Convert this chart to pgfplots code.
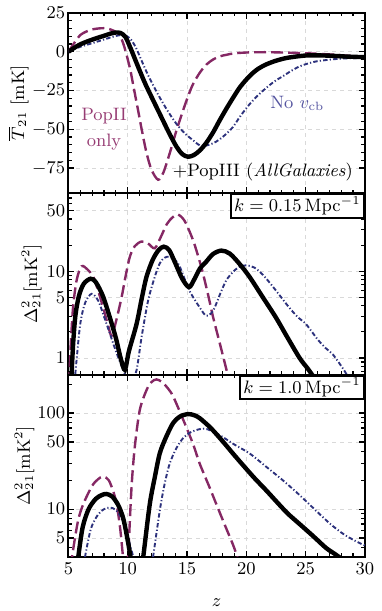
\documentclass[border=0pt]{standalone}
\usepackage{pgfplots}
\pgfplotsset{compat=1.18}
\definecolor{popii}{RGB}{133,40,100}
\definecolor{nov}{RGB}{45,50,125}
\definecolor{popiitext}{RGB}{150,60,115}
\definecolor{novtext}{RGB}{85,85,160}

\pgfplotsset{
  panel/.style={
    scale only axis, width=148.25pt, anchor=south west,
    xmin=5, xmax=30, xtick={5,10,...,30}, minor x tick num=4,
    axis line style={line width=1pt},
    tick style={black, line width=0.6pt},
    major tick length=3pt, minor tick length=1.7pt,
    tick align=inside,
    grid=major, major grid style={dash pattern=on 2pt off 2pt, gray!30, line width=0.4pt},
    yticklabel style={inner xsep=1.5pt},
  },
  allgal/.style={black, line width=2.2pt, smooth},
  popline/.style={popii, line width=1.2pt, dash pattern=on 6pt off 2.5pt, smooth},
  novline/.style={nov, line width=0.95pt, dash pattern=on 2.2pt off 1.1pt on 0.6pt off 1.1pt, smooth},
}
\tikzset{kbox/.style={draw, line width=1pt, fill=white, anchor=north east, inner xsep=1.6pt, inner ysep=1.2pt}}

\begin{document}
\fontsize{9}{11}\selectfont
\begin{tikzpicture}
\path[use as bounding box] (-34.25pt,-27.15pt) rectangle (156.75pt,278.5pt);

% --- global 21-cm signal ---
\begin{axis}[panel, at={(0pt,182pt)}, height=90pt,
    ymin=-91, ymax=25, ytick={-75,-50,-25,0,25}, minor y tick num=4,
    xticklabels={},
    ylabel={$\overline{T}_{21}$ [mK]},
    ylabel style={at={(axis description cs:-0.15,0.5)}, anchor=base},
]
\addplot[popline] coordinates {
(5.0,0) (5.5,5.8) (6.0,10.8) (6.5,13) (7.0,14.4) (7.5,15) (8.0,15.2) (8.5,14.5)
(9.0,12.8) (9.34,10.5) (9.7,3.5) (10.18,-10.4) (10.5,-23) (10.88,-38) (11.2,-51)
(11.58,-65) (12.0,-76) (12.56,-82.5) (13.0,-78) (13.54,-65.5) (14.1,-51)
(14.66,-38) (15.1,-28.5) (15.5,-21) (16.07,-13.6) (16.63,-8.3) (17.2,-5)
(17.75,-3) (18.3,-2) (19,-1) (20.3,-0.4) (22,-0.3) (24.5,-0.8) (26,-1.3)
(27.4,-1.9) (29,-2.8) (30,-3.5)
};
\addplot[novline] coordinates {
(5.0,0) (5.5,1.8) (6.0,3.2) (6.5,4.4) (7.0,5.5) (7.5,6.7) (8.0,7.9) (8.5,9.1)
(9.0,10.2) (9.5,10.8) (9.9,10.2) (10.3,7.6) (10.7,2.5) (11.1,-4.5) (11.5,-11.5)
(12.0,-19.5) (12.7,-29.5) (13.4,-38.5) (14.1,-46.4) (14.8,-52.5) (15.5,-57)
(16.07,-60.3) (16.6,-60.5) (17.2,-59) (17.75,-56.5) (18.3,-53) (18.87,-48.6)
(19.5,-41.5) (20.28,-33.8) (21.0,-28) (21.7,-23.2) (22.4,-19) (23.1,-15.7)
(23.8,-12.3) (24.5,-9.4) (25.2,-7.6) (25.9,-6.2) (26.9,-5.2) (27.85,-4.5)
(29,-4.1) (30,-4.0)
};
\addplot[allgal] coordinates {
(5.0,0) (5.5,2.6) (6.0,4.8) (6.5,6.4) (7.0,7.8) (7.5,9.1) (8.0,10.3) (8.5,11.6)
(9.0,12.4) (9.4,12.1) (9.8,9.6) (10.2,3) (10.6,-4.5) (11.0,-12) (11.5,-21)
(12.0,-29) (12.7,-40) (13.5,-52.5) (14.1,-61) (14.6,-66) (15.1,-67.7)
(15.6,-66.5) (16.1,-63.5) (16.6,-59) (17.2,-52) (17.75,-44.3) (18.3,-37)
(18.9,-29.5) (19.5,-22.5) (20.3,-15.5) (21.0,-11) (21.7,-8.1) (22.5,-5.8)
(23.4,-4.0) (24.5,-2.8) (25.3,-2.3) (26.5,-2.4) (27.5,-2.7) (28.5,-3.1) (30,-3.5)
};
\node[popiitext, anchor=base] at (axis cs:8.0,-44) {PopII};
\node[popiitext, anchor=base] at (axis cs:8.0,-61) {only};
\node[novtext] at (axis cs:24.3,-33) {No $v_{\rm cb}$};
\node[black] at (axis cs:21.4,-77.4) {$+$PopIII (\textit{AllGalaxies})};
\end{axis}

% --- power spectrum, k = 0.15 ---
\begin{axis}[panel, at={(0pt,91pt)}, height=91pt,
    ymode=log, ymin=0.64, ymax=80,
    ytick={1,5,10,50}, yticklabels={1,5,10,50},
    minor ytick={0.7,0.8,0.9,2,3,4,6,7,8,9,20,30,40,60,70,80},
    xticklabels={},
    ylabel={$\Delta^2_{21}[\mathrm{mK}^2]$},
    ylabel style={at={(axis description cs:-0.106,0.5)}, anchor=base},
]
\addplot[popline] coordinates {
(5.05,0.5) (5.2,1.5) (5.4,4) (5.7,8) (6.1,11.4) (6.6,10.5) (7.1,8.6) (7.5,6)
(7.93,3.8) (8.3,2.5) (8.64,1.8) (9.0,2.6) (9.48,5) (9.8,8.5) (10.18,14.7)
(10.6,19.5) (11.16,22) (11.7,21) (12.28,18.4) (12.8,25) (13.3,35) (13.8,42)
(14.24,45) (14.8,38) (15.5,23) (16.0,14) (16.35,9.4) (16.8,5.2) (17.19,3.0)
(17.7,1.6) (18.3,0.76) (18.6,0.5)
};
\addplot[novline] coordinates {
(5.5,0.5) (5.7,1.0) (6.0,2.5) (6.4,4.3) (6.95,5.5) (7.5,4.6) (8.0,3.0) (8.5,1.9)
(9.0,1.2) (9.5,0.8) (9.9,0.6) (10.3,0.55) (10.74,0.72) (11.16,1.71) (11.72,4.6)
(12.28,8.6) (12.7,12.3) (13.1,14.3) (13.54,14.7) (14.0,13.5) (14.4,11.2)
(15.2,6.0) (16.07,3.83) (16.63,3.07) (17.2,3.5) (17.8,5.5) (18.3,7.8) (18.87,9.8)
(19.4,11.2) (20.0,11.7) (20.7,11.0) (21.5,8.8) (22.5,6.0) (23.5,4.0) (24.3,3.0)
(25.05,2.45) (26,1.65) (26.7,1.3) (27.3,1.1) (27.9,0.85) (28.4,0.67) (28.7,0.55)
};
\addplot[allgal] coordinates {
(5.22,0.5) (5.4,1.5) (5.6,3.2) (5.9,5.3) (6.3,7.2) (6.87,8.2) (7.3,7.5) (7.9,5.2)
(8.5,2.9) (9.0,1.7) (9.4,1.0) (9.76,0.73) (10.1,1.2) (10.74,2.45) (11.2,5)
(11.58,8.6) (12.1,13.5) (12.6,17.5) (13.04,19.2) (13.5,17.5) (14.0,12.5)
(14.6,8.2) (15.17,6.56) (15.6,8) (16.1,10.8) (16.6,12.8) (17.2,15.8) (17.9,17.3)
(18.6,16) (19.4,12.3) (20.28,8.6) (21.4,5) (22.5,2.93) (23.5,1.7) (24.5,1.0)
(25.2,0.75) (25.7,0.6)
};
\node[kbox] at (axis description cs:1,1) {$k=0.15\,\mathrm{Mpc}^{-1}$};
\end{axis}

% --- power spectrum, k = 1.0 ---
\begin{axis}[panel, at={(0pt,0pt)}, height=91pt,
    ymode=log, ymin=3.2, ymax=250,
    ytick={5,10,50,100}, yticklabels={5,10,50,100},
    minor ytick={4,6,7,8,9,20,30,40,60,70,80,90,200},
    xlabel={$z$},
    xlabel style={at={(axis description cs:0.5,0)}, yshift=-25pt, anchor=base},
    ylabel={$\Delta^2_{21}[\mathrm{mK}^2]$},
    ylabel style={at={(axis description cs:-0.13,0.5)}, anchor=base},
]
\addplot[popline] coordinates {
(5.2,2.5) (5.35,3.5) (5.8,7.5) (6.25,11.3) (7.0,17.5) (7.5,20.5) (7.93,21.9)
(8.4,20) (8.8,15) (9.06,11.3) (9.35,6.5) (9.6,3.2) (9.7,2.5)
};
\addplot[popline] coordinates {
(9.95,2.5) (10.05,3.5) (10.32,16.9) (10.6,45) (11.02,108) (11.6,175) (12.0,210)
(12.42,224) (12.9,210) (13.4,180) (13.82,150) (14.6,90) (15.5,48) (16.07,29.8)
(16.9,16.9) (17.47,11.3) (18.2,6.8) (18.87,4.3) (19.2,3.3) (19.35,2.8)
};
\addplot[novline] coordinates {
(6.3,2.5) (6.4,3.2) (6.9,6.3) (7.5,8.8) (8.0,10) (8.5,10.4) (9.0,9.8) (9.5,8)
(9.9,5.9) (10.2,4.2) (10.5,3.1) (10.6,2.8)
};
\addplot[novline] coordinates {
(12.0,2.5) (12.14,3.2) (12.7,9.6) (13.1,18) (13.54,29.8) (14.1,43) (14.66,54.6)
(15.3,63) (16.07,68) (16.7,68) (17.75,59) (19.0,47) (20.28,38) (21.7,27.5)
(23.1,19.9) (24.5,14) (25.9,9.6) (27.1,7.0) (28.3,5.4) (29.54,4.45) (30,4.2)
};
\addplot[allgal] coordinates {
(5.75,2.5) (5.83,3.2) (6.2,6.5) (6.7,10) (7.3,12.8) (7.8,14) (8.2,14.4) (8.7,13.5)
(9.2,11) (9.6,8.2) (9.9,5.5) (10.2,3.4) (10.35,2.5)
};
\addplot[allgal] coordinates {
(11.2,2.5) (11.35,3.5) (11.86,11.3) (12.3,22) (12.7,38) (13.2,55) (13.82,78.5)
(14.4,92) (15.08,97.6) (15.6,95) (16.07,88.5) (17.0,70) (18.0,51) (18.87,38)
(19.8,28) (20.7,21) (21.7,15.6) (22.6,11.8) (23.5,9) (24.5,7.0) (25.6,5.3)
(26.73,3.95) (27.5,3.4) (28.1,3.0) (28.5,2.7)
};
\node[kbox] at (axis description cs:1,1) {$k=1.0\,\mathrm{Mpc}^{-1}$};
\end{axis}
\end{tikzpicture}
\end{document}
